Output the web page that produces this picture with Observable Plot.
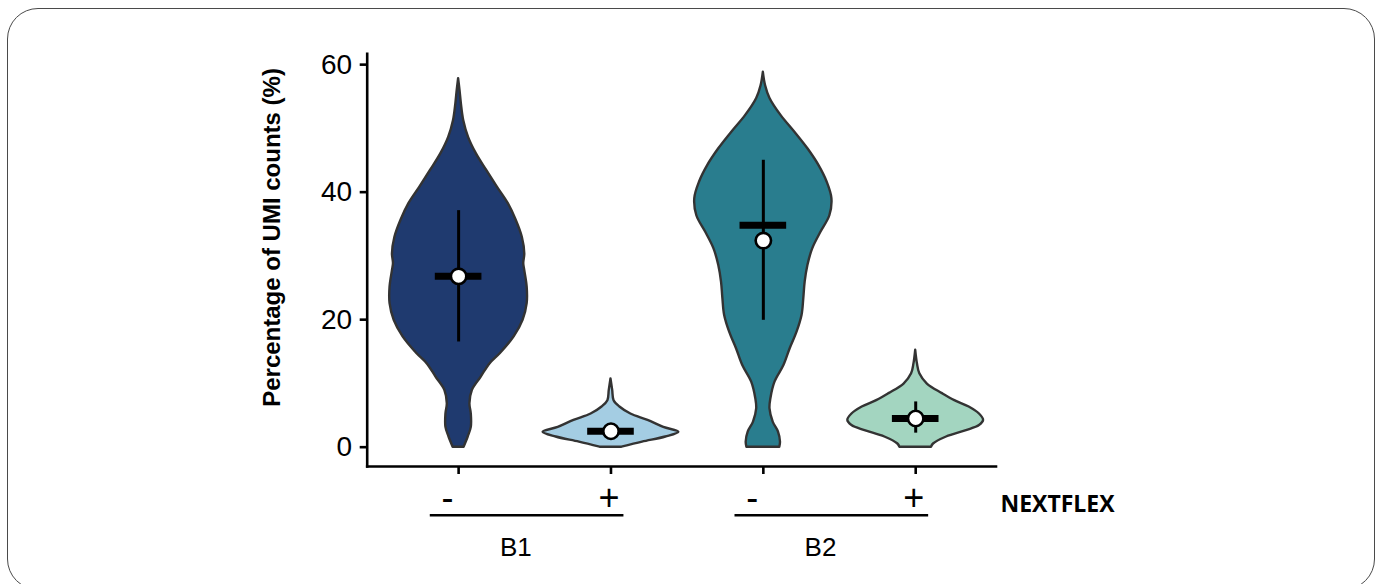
<!DOCTYPE html>
<html>
<head>
<meta charset="utf-8">
<script src="https://cdn.jsdelivr.net/npm/d3@7"></script>
<script src="https://cdn.jsdelivr.net/npm/@observablehq/plot@0.6"></script>
<style>
  html, body { margin: 0; padding: 0; background: #fff; overflow: hidden; }
  #card {
    position: absolute; left: 7px; top: 8px; width: 1368px; height: 582px;
    box-sizing: border-box; border: 1.3px solid #4a4a4a; border-radius: 31px;
  }
  #chart { position: absolute; left: 0; top: 0; }
</style>
</head>
<body>
<div id="card"></div>
<div id="chart"></div>
<script>
// Conditions shown left to right: batch × NEXTFLEX treatment
const conditions = ["B1 -", "B1 +", "B2 -", "B2 +"];
const nextflexLabels = ["-", "+", "-", "+"];
const batches = ["B1", "B2"];
const batchStart = [1, 3];
const batchEnd = [2, 4];
const fills = ["#1f3a6f", "#a4cde3", "#297d8e", "#a3d5c0"];
const yTicks = [0, 20, 40, 60];

// Violin outlines: UMI percentage and scaled density (1 = widest point)
const b1MinusValue   = [0, 1.6, 3.1, 5.2, 6.8, 8.9, 11.0, 13.1, 14.7, 17.3, 19.9, 22.5, 25.1, 27.7, 28.8, 30.3, 32.9, 35.6, 38.2, 40.8, 43.4, 46.0, 48.6, 51.2, 53.9, 56.0, 57.8];
const b1MinusDensity = [0.08, 0.14, 0.185, 0.185, 0.165, 0.2, 0.33, 0.46, 0.61, 0.81, 0.94, 1.0, 1.0, 0.965, 0.95, 0.965, 0.93, 0.84, 0.725, 0.565, 0.41, 0.26, 0.145, 0.075, 0.04, 0.02, 0];

const b1PlusValue   = [0, 0.8, 1.6, 2.35, 3.1, 4.2, 5.2, 6.3, 7.3, 8.9, 10.7];
const b1PlusDensity = [0.16, 0.46, 0.8, 0.99, 0.77, 0.54, 0.29, 0.13, 0.045, 0.025, 0];

const b2MinusValue   = [0, 0.8, 2.4, 3.9, 6.0, 7.6, 10.2, 12.8, 15.4, 18.0, 20.7, 23.3, 25.9, 28.5, 31.1, 33.7, 36.3, 39.0, 41.6, 44.2, 46.8, 49.4, 52.0, 54.7, 56.7, 58.8];
const b2MinusDensity = [0.24, 0.25, 0.22, 0.145, 0.097, 0.11, 0.17, 0.3, 0.39, 0.49, 0.565, 0.59, 0.61, 0.65, 0.72, 0.84, 0.97, 1.0, 0.93, 0.81, 0.65, 0.46, 0.26, 0.097, 0.033, 0];

const b2PlusValue   = [0, 0.5, 1.6, 2.6, 3.4, 4.2, 5.2, 6.3, 7.3, 8.4, 9.9, 11.5, 13.1, 15.2];
const b2PlusDensity = [0.23, 0.26, 0.45, 0.74, 0.93, 0.99, 0.93, 0.78, 0.57, 0.39, 0.17, 0.06, 0.025, 0];

// Summary per condition: mean (circle), median (bar), whisker range
const means   = [26.8, 2.5, 32.4, 4.5];
const medians = [26.8, 2.5, 34.8, 4.5];
const lows    = [16.5, 1.4, 19.9, 2.2];
const highs   = [37.1, 3.6, 45.0, 7.1];

const violinValues = [b1MinusValue, b1PlusValue, b2MinusValue, b2PlusValue];
const violinDensity = [b1MinusDensity, b1PlusDensity, b2MinusDensity, b2PlusDensity];
const positions = conditions.map((_, i) => i + 1);

const violinRows = conditions.flatMap((c, i) =>
  violinValues[i].map((v, j) => ({condition: c, pos: positions[i], value: v, density: violinDensity[i][j]}))
);
const summary = conditions.map((c, i) => ({
  condition: c, pos: positions[i], mean: means[i], median: medians[i], low: lows[i], high: highs[i]
}));
const labelRows = conditions.map((c, i) => ({pos: positions[i], label: nextflexLabels[i]}));
const batchRows = batches.map((b, i) => ({batch: b, start: batchStart[i], end: batchEnd[i]}));

const halfWidth = 0.45;   // half of the violin width at its widest
const barHalf = 0.153;    // half length of the median bar
const axisStroke = 2.6;

const chart = Plot.plot({
  width: 1381,
  height: 584,
  marginLeft: 366.7,
  marginRight: 385.5,
  marginTop: 53.3,
  marginBottom: 118,
  style: {fontFamily: "'Liberation Sans', Arial, sans-serif", fontSize: "28px", color: "black", background: "transparent", overflow: "visible"},
  x: {type: "linear", domain: [0.4, 4.527], axis: null},
  y: {domain: [-3.03, 61.7], axis: null},
  color: {domain: conditions, range: fills},
  marks: [
    Plot.areaX(violinRows, {
      y: "value",
      x1: d => d.pos - halfWidth * d.density,
      x2: d => d.pos + halfWidth * d.density,
      z: "condition",
      fill: "condition",
      stroke: "#333333",
      strokeWidth: 2.4,
      curve: "catmull-rom"
    }),
    Plot.ruleX(summary, {x: "pos", y1: "low", y2: "high", stroke: "black", strokeWidth: 3}),
    Plot.ruleY(summary, {y: "median", x1: d => d.pos - barHalf, x2: d => d.pos + barHalf, stroke: "black", strokeWidth: 7}),
    Plot.dot(summary, {x: "pos", y: "mean", r: 7.7, fill: "white", stroke: "black", strokeWidth: 2.6}),
    Plot.frame({anchor: "left", stroke: "black", strokeWidth: axisStroke}),
    Plot.frame({anchor: "bottom", stroke: "black", strokeWidth: axisStroke}),
    Plot.axisY({ticks: yTicks, tickSize: 7, tickPadding: 8, strokeWidth: axisStroke, label: null}),
    Plot.axisX({ticks: positions, tickSize: 8, strokeWidth: axisStroke, tickFormat: () => "", label: null}),
    // NEXTFLEX treatment labels under each tick
    Plot.text(labelRows.filter(d => d.label === "-"), {x: "pos", text: "label", frameAnchor: "bottom", lineAnchor: "bottom", dx: -11, dy: 43, fontSize: 36}),
    Plot.text(labelRows.filter(d => d.label === "+"), {x: "pos", text: "label", frameAnchor: "bottom", lineAnchor: "bottom", dx: -2, dy: 43.5, fontSize: 36}),
    // Batch brackets and names
    Plot.ruleY(batchRows, {y: -3.03, x1: d => d.start - 0.186, x2: d => d.end + 0.085, stroke: "black", strokeWidth: 2.5, dy: 48.7}),
    Plot.text(batchRows, {x: d => (d.start + d.end) / 2, text: "batch", frameAnchor: "bottom", lineAnchor: "bottom", dx: -19, dy: 89.3, fontSize: 26}),
    Plot.text(["NEXTFLEX"], {text: d => d, frameAnchor: "bottom-right", textAnchor: "start", lineAnchor: "bottom", dx: 4.5, dy: 45.7, fontSize: 23, fontWeight: "bold", fontFamily: "'Open Sans', 'Liberation Sans', sans-serif"}),
    // Y axis title
    Plot.text(["Percentage of UMI counts (%)"], {text: d => d, frameAnchor: "left", rotate: -90, textAnchor: "middle", lineAnchor: "middle", dx: -94.7, dy: -22.7, fontSize: 24, fontWeight: "bold"})
  ]
});
document.getElementById("chart").append(chart);
</script>
</body>
</html>
